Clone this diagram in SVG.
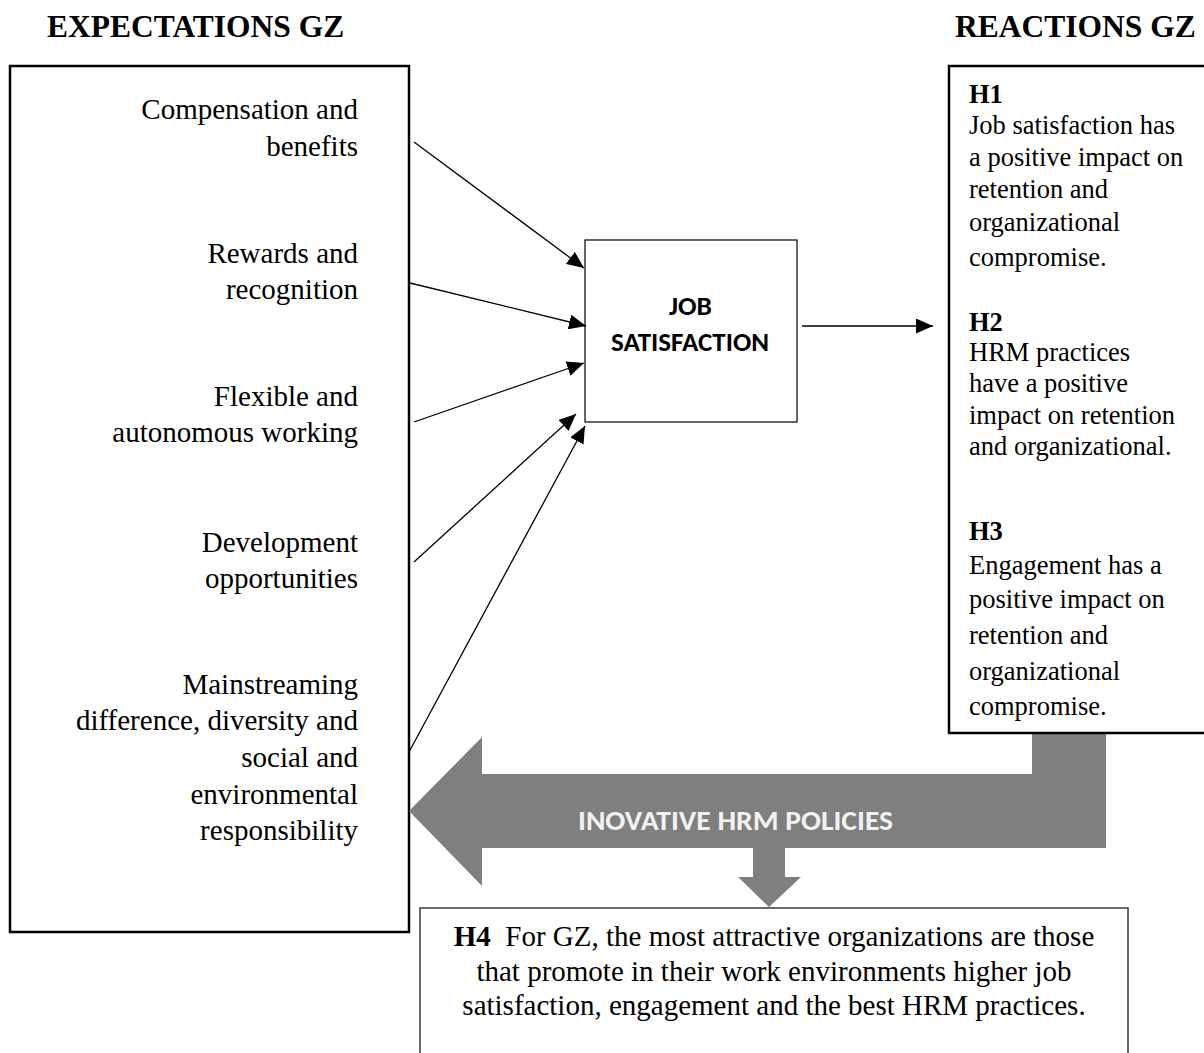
<svg xmlns="http://www.w3.org/2000/svg" width="1204" height="1053" viewBox="0 0 1204 1053">
  <style>
    .serif { font-family: "Liberation Serif", "Times New Roman", serif; fill: #000; }
    .title { font-size: 31.5px; font-weight: bold; }
    .lbl { font-size: 29px; text-anchor: end; }
    .hyp { font-size: 26.5px; }
    .hyp .h { font-weight: bold; }
    .h4 { font-size: 29px; text-anchor: middle; }
    .sans { font-family: Carlito, Calibri, Lato, "Open Sans", sans-serif; font-weight: bold; }
    .frame { fill: #fff; stroke: #000; stroke-width: 2.5; }
    .thin { fill: #fff; stroke: #000; stroke-width: 1.2; }
    .conn { fill: none; stroke: #000; stroke-width: 1.3; }
  </style>
  <defs>
    <marker id="head" markerUnits="userSpaceOnUse" markerWidth="18" markerHeight="15" refX="17" refY="7.5" orient="auto">
      <path d="M0,0 L17,7.5 L0,15 z" fill="#000"/>
    </marker>
  </defs>

  <rect width="1204" height="1053" fill="#fff"/>

  <!-- column headings -->
  <text class="serif title" x="47" y="37">EXPECTATIONS GZ</text>
  <text class="serif title" x="955" y="37">REACTIONS GZ</text>

  <!-- expectations column -->
  <g id="expectations">
    <rect class="frame" x="10" y="66" width="399" height="866"/>
    <text class="serif lbl" x="358" y="119">Compensation and</text>
    <text class="serif lbl" x="358" y="156">benefits</text>
    <text class="serif lbl" x="358" y="263">Rewards and</text>
    <text class="serif lbl" x="358" y="299">recognition</text>
    <text class="serif lbl" x="358" y="406">Flexible and</text>
    <text class="serif lbl" x="358" y="442">autonomous working</text>
    <text class="serif lbl" x="358" y="552">Development</text>
    <text class="serif lbl" x="358" y="588">opportunities</text>
    <text class="serif lbl" x="358" y="694">Mainstreaming</text>
    <text class="serif lbl" x="358" y="730">difference, diversity and</text>
    <text class="serif lbl" x="358" y="767">social and</text>
    <text class="serif lbl" x="358" y="804">environmental</text>
    <text class="serif lbl" x="358" y="840">responsibility</text>
  </g>

  <!-- policies arrow (drawn before the reactions box so the box edge sits on top) -->
  <g id="policies">
    <polygon fill="#7f7f7f" points="409,811 482,737 482,774 1032,774 1032,733 1106,733 1106,848 785,848 785,877 801,877 769,907 738,877 753,877 753,848 482,848 482,886"/>
    <text class="sans" x="578" y="830" font-size="29" fill="#f2f2f2" textLength="315" lengthAdjust="spacingAndGlyphs">INOVATIVE HRM POLICIES</text>
  </g>

  <!-- job satisfaction -->
  <g id="job-satisfaction">
    <rect class="thin" x="585" y="240" width="212" height="182"/>
    <text class="sans" x="669" y="315" font-size="27" fill="#000" textLength="43" lengthAdjust="spacingAndGlyphs">JOB</text>
    <text class="sans" x="611" y="351" font-size="26" fill="#000" textLength="158" lengthAdjust="spacingAndGlyphs">SATISFACTION</text>
  </g>

  <!-- reactions column -->
  <g id="reactions">
    <rect class="frame" x="949" y="66" width="270" height="667"/>
    <text class="serif hyp">
      <tspan class="h" x="969" y="103">H1</tspan>
      <tspan x="969" y="134">Job satisfaction has</tspan>
      <tspan x="969" y="166">a positive impact on</tspan>
      <tspan x="969" y="198">retention and</tspan>
      <tspan x="969" y="231">organizational</tspan>
      <tspan x="969" y="266">compromise.</tspan>
      <tspan class="h" x="969" y="331">H2</tspan>
      <tspan x="969" y="361">HRM practices</tspan>
      <tspan x="969" y="392">have a positive</tspan>
      <tspan x="969" y="424">impact on retention</tspan>
      <tspan x="969" y="455">and organizational.</tspan>
      <tspan class="h" x="969" y="540">H3</tspan>
      <tspan x="969" y="574">Engagement has a</tspan>
      <tspan x="969" y="608">positive impact on</tspan>
      <tspan x="969" y="644">retention and</tspan>
      <tspan x="969" y="680">organizational</tspan>
      <tspan x="969" y="715">compromise.</tspan>
    </text>
  </g>

  <!-- hypothesis H4 -->
  <g id="h4">
    <rect x="420" y="908" width="708" height="160" fill="#fff" stroke="#3a3a3a" stroke-width="1.5"/>
    <text class="serif h4" x="774" y="946"><tspan font-weight="bold">H4</tspan>&#160; For GZ, the most attractive organizations are those</text>
    <text class="serif h4" x="774" y="981">that promote in their work environments higher job</text>
    <text class="serif h4" x="774" y="1015">satisfaction, engagement and the best HRM practices.</text>
  </g>

  <!-- connectors -->
  <g id="connectors">
    <line class="conn" x1="414" y1="142" x2="584" y2="268" marker-end="url(#head)"/>
    <line class="conn" x1="410" y1="283" x2="586" y2="326" marker-end="url(#head)"/>
    <line class="conn" x1="414" y1="422" x2="584" y2="363" marker-end="url(#head)"/>
    <line class="conn" x1="414" y1="562" x2="576" y2="414" marker-end="url(#head)"/>
    <line class="conn" x1="409" y1="752" x2="585" y2="426" marker-end="url(#head)"/>
    <line class="conn" x1="802" y1="326" x2="933" y2="326" marker-end="url(#head)"/>
  </g>
</svg>
